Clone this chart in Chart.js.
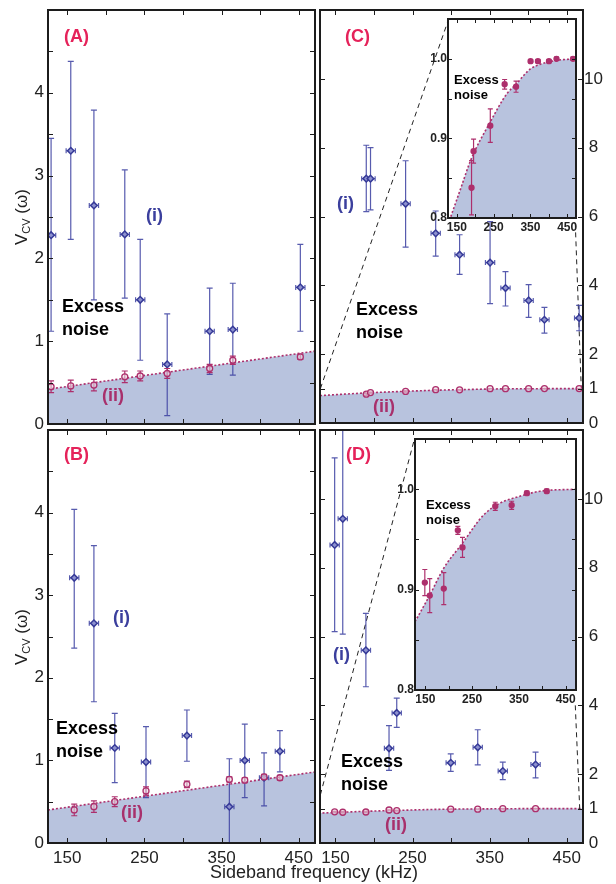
<!DOCTYPE html>
<html><head><meta charset="utf-8">
<script src="https://cdn.jsdelivr.net/npm/chart.js@4.4.1/dist/chart.umd.min.js"></script>
<style>
html,body{margin:0;padding:0;background:#fff;width:616px;height:884px;overflow:hidden;position:relative;font-family:"Liberation Sans",Arial,sans-serif;}
canvas{position:absolute;}
.t{position:absolute;white-space:nowrap;font-weight:bold;line-height:1;z-index:5;}
.lab{font-size:18px;color:#e5225a;}
.ci{font-size:18px;color:#3b3f9d;}
.cii{font-size:18px;color:#a8306c;}
.ex{font-size:18px;color:#000;line-height:22.5px;}
.exs{font-size:13px;color:#000;line-height:15px;}
.ytitle{position:absolute;white-space:nowrap;font-size:17px;color:#222;transform-origin:0 0;transform:rotate(-90deg) translate(-50%,-50%);z-index:5;line-height:1;}
.ytitle sub{font-size:11px;vertical-align:-3px;}
.xtitle{position:absolute;white-space:nowrap;font-size:18px;color:#222;z-index:5;line-height:1;}
</style></head><body>
<script>
// ---------------- data ----------------
// tick values
const freqTicks = [150, 200, 250, 300, 350, 400, 450];
const freqLabels = [150, 250, 350, 450];
const vcvLabelsAB = [0, 1, 2, 3, 4];
const vcvTicksAB = [0.5, 1, 1.5, 2, 2.5, 3, 3.5, 4, 4.5];
const vcvLabelsCD = [0, 1, 2, 4, 6, 8, 10];
const vcvTicksCD = [1, 2, 4, 6, 8, 10];
const insetLabels = [0.8, 0.9, 1.0];
const insetTicks = [0.85, 0.9, 0.95, 1.0];

// Panel A
const freqA = [129, 154.5, 184.5, 224.5, 244.5, 279.5, 334.5, 364.5, 452];
const freqErrA = [6, 6, 6, 6, 6, 6, 6, 6, 6];
const vcvA_i = [2.28, 3.30, 2.64, 2.29, 1.50, 0.72, 1.12, 1.14, 1.65];
const vcvA_iLow = [1.12, 2.23, 1.50, 1.52, 0.77, 0.10, 0.60, 0.59, 1.12];
const vcvA_iHigh = [3.45, 4.38, 3.79, 3.07, 2.23, 1.33, 1.64, 1.70, 2.17];
const vcvA_ii = [0.45, 0.46, 0.47, 0.57, 0.58, 0.61, 0.67, 0.77, 0.81];
const vcvA_iiErr = [0.07, 0.07, 0.07, 0.07, 0.06, 0.06, 0.05, 0.05, 0.03];
const boundA_f = [125, 471];
const boundA_v = [0.42, 0.88];

// Panel B
const freqB = [159, 184.5, 211.5, 252, 305, 360, 380, 405, 425.5];
const freqErrB = [6, 6, 6, 6, 6, 6, 6, 6, 6];
const vcvB_i = [3.21, 2.66, 1.15, 0.98, 1.30, 0.44, 1.00, 0.79, 1.11];
const vcvB_iLow = [2.36, 1.71, 0.73, 0.55, 0.99, -0.15, 0.55, 0.45, 0.86];
const vcvB_iHigh = [4.04, 3.60, 1.57, 1.41, 1.61, 1.02, 1.44, 1.09, 1.36];
const vcvB_ii = [0.40, 0.44, 0.50, 0.63, 0.71, 0.77, 0.76, 0.80, 0.79];
const vcvB_iiErr = [0.07, 0.07, 0.06, 0.05, 0.04, 0.03, 0.03, 0.03, 0.03];
const boundB_f = [125, 471];
const boundB_v = [0.40, 0.86];

// Panel C
const freqC = [190, 195.5, 241, 280, 311, 350.5, 370.5, 400.5, 421, 466];
const freqErrC = [6, 6, 6, 6, 6, 6, 6, 6, 6, 6];
const vcvC_i = [7.10, 7.10, 6.37, 5.51, 4.89, 4.66, 3.92, 3.56, 3.00, 3.05];
const vcvC_iLow = [6.14, 6.19, 5.11, 4.85, 4.32, 3.47, 3.40, 3.07, 2.61, 2.68];
const vcvC_iHigh = [8.07, 8.00, 7.62, 6.16, 5.47, 5.85, 4.40, 4.02, 3.36, 3.42];
const vcvC_ii = [0.838, 0.884, 0.916, 0.968, 0.965, 0.997, 0.997, 0.997, 1.0, 1.0];
const vcvC_iiErr = [0.034, 0.015, 0.021, 0.006, 0.007, 0.002, 0.002, 0.002, 0.002, 0.002];
const boundC_f = [130, 159, 189, 240, 286, 311, 349, 376, 421, 474];
const boundC_v = [0.797, 0.835, 0.874, 0.920, 0.956, 0.968, 0.987, 0.993, 0.998, 1.0];
const zoomC_left_f = [130.5, 296.4];
const zoomC_left_v = [1.0, 11.71];
const zoomC_right_f = [461, 469];
const zoomC_right_v = [5.8, 0.86];

// Panel D
const freqD = [149, 159.5, 189.5, 219.5, 229.5, 299.5, 334.5, 367, 409.5];
const freqErrD = [6, 6, 6, 6, 6, 6, 6, 6, 6];
const vcvD_i = [8.66, 9.42, 5.60, 2.75, 3.78, 2.33, 2.78, 2.09, 2.28];
const vcvD_iLow = [6.14, 6.07, 4.54, 2.11, 3.36, 2.08, 2.27, 1.84, 1.89];
const vcvD_iHigh = [11.19, 12.77, 6.67, 3.41, 4.21, 2.59, 3.29, 2.35, 2.64];
const vcvD_ii = [0.907, 0.894, 0.901, 0.959, 0.942, 0.983, 0.984, 0.996, 0.998];
const vcvD_iiErr = [0.013, 0.017, 0.016, 0.004, 0.010, 0.004, 0.004, 0.002, 0.002];
const boundD_f = [128, 159, 189, 229, 274, 309, 345, 395, 472];
const boundD_v = [0.868, 0.894, 0.921, 0.946, 0.974, 0.986, 0.992, 0.998, 1.0];
const zoomD_left_f = [130.5, 252];
const zoomD_left_v = [1.4, 11.7];
const zoomD_right_f = [461, 467];
const zoomD_right_v = [4.0, 0.87];

// ---------------- styling ----------------
const BLUE = '#363a98';
const BLUE_ERR = 'rgba(58,62,160,0.85)';
const MAG = '#ad2f6c';
const FILL = '#b8c3de';
const FRAME = '#1c1c1c';
Chart.defaults.font.family = 'Liberation Sans';

// ---------------- plugins ----------------
const frameTicks = {
  id: 'frameTicks',
  beforeDraw(chart, args, o) {
    if (!o || !o.bg) return;
    const a = chart.chartArea, ctx = chart.ctx;
    ctx.save(); ctx.fillStyle = o.bg;
    ctx.fillRect(a.left, a.top, a.right - a.left, a.bottom - a.top);
    ctx.restore();
  },
  afterDraw(chart, args, o) {
    if (!o || !o.x) return;
    const {ctx, chartArea: a, scales} = chart;
    ctx.save();
    ctx.strokeStyle = FRAME; ctx.lineWidth = 1;
    ctx.beginPath();
    o.x.forEach(v => {
      const px = Math.round(scales.x.getPixelForValue(v)) + 0.5;
      ctx.moveTo(px, a.bottom); ctx.lineTo(px, a.bottom - o.len);
      ctx.moveTo(px, a.top); ctx.lineTo(px, a.top + o.len);
    });
    o.y.forEach(v => {
      const py = Math.round(scales.y.getPixelForValue(v)) + 0.5;
      ctx.moveTo(a.left, py); ctx.lineTo(a.left + o.len, py);
      ctx.moveTo(a.right, py); ctx.lineTo(a.right - o.len, py);
    });
    ctx.stroke();
    ctx.lineWidth = o.frameW;
    ctx.strokeRect(a.left, a.top, a.right - a.left, a.bottom - a.top);
    ctx.restore();
  }
};

const errBars = {
  id: 'errBars',
  beforeDatasetDraw(chart, args) {
    const ds = chart.data.datasets[args.index];
    if (!ds.errLo) return;
    const {ctx, chartArea: a, scales: {x, y}} = chart;
    ctx.save();
    ctx.beginPath(); ctx.rect(a.left, a.top, a.right - a.left, a.bottom - a.top); ctx.clip();
    ctx.strokeStyle = ds.errColor; ctx.lineWidth = ds.errWidth || 1.2;
    ctx.beginPath();
    const c = ds.cap;
    ds.data.forEach((p, i) => {
      const px = x.getPixelForValue(p.x);
      const y1 = y.getPixelForValue(ds.errLo[i]), y2 = y.getPixelForValue(ds.errHi[i]);
      ctx.moveTo(px, y1); ctx.lineTo(px, y2);
      ctx.moveTo(px - c, y1); ctx.lineTo(px + c, y1);
      ctx.moveTo(px - c, y2); ctx.lineTo(px + c, y2);
      if (ds.xErr) {
        const xa = x.getPixelForValue(p.x - ds.xErr[i]), xb = x.getPixelForValue(p.x + ds.xErr[i]);
        const py = y.getPixelForValue(p.y);
        ctx.moveTo(xa, py); ctx.lineTo(xb, py);
        ctx.moveTo(xa, py - 2.5); ctx.lineTo(xa, py + 2.5);
        ctx.moveTo(xb, py - 2.5); ctx.lineTo(xb, py + 2.5);
      }
    });
    ctx.stroke();
    ctx.restore();
  }
};
Chart.register(frameTicks, errBars);

// ---------------- helpers ----------------
const pts = (xs, ys) => xs.map((x, i) => ({x, y: ys[i]}));
function blueSet(xs, v, lo, hi, xe) {
  return {data: pts(xs, v), showLine: false, pointStyle: 'rectRot', pointRadius: 3.3, pointBorderWidth: 1.5,
    pointBorderColor: BLUE, pointBackgroundColor: '#8d91cf', errLo: lo, errHi: hi, xErr: xe,
    errColor: BLUE_ERR, cap: 3};
}
function magSet(xs, v, err, filled, r) {
  return {data: pts(xs, v), showLine: false, pointRadius: r, pointBorderWidth: 1.3,
    pointBorderColor: MAG, pointBackgroundColor: filled ? MAG : 'rgba(235,215,225,0.6)',
    errLo: v.map((y, i) => y - err[i]), errHi: v.map((y, i) => y + err[i]),
    errColor: MAG, cap: filled ? 2.5 : 3};
}
function curveSet(xs, v) {
  return {data: pts(xs, v), fill: 'start', backgroundColor: FILL, borderColor: MAG,
    borderWidth: 1.6, borderDash: [2, 2], pointRadius: 0, cubicInterpolationMode: 'monotone'};
}
function dashSet(xs, v) {
  return {data: pts(xs, v), fill: false, borderColor: '#222', borderWidth: 1,
    borderDash: [5, 4], pointRadius: 0};
}

const P = 30;
function makeChart(o) {
  const axL = o.axL || 0, axR = o.axR || 0, axB = o.axB || 0;
  const f = o.frame;
  const c = document.createElement('canvas');
  const w = (f[2] - f[0]) + 2 * P + axL + axR, h = (f[3] - f[1]) + 2 * P + axB;
  c.width = w; c.height = h;
  c.style.left = (f[0] - P - axL) + 'px'; c.style.top = (f[1] - P) + 'px';
  c.style.width = w + 'px'; c.style.height = h + 'px'; c.style.zIndex = o.z;
  document.body.appendChild(c);
  const yPos = axR ? 'right' : 'left';
  const yShown = !!(axL || axR);
  new Chart(c, {
    type: 'line',
    data: {datasets: o.datasets},
    options: {
      responsive: false, animation: false, devicePixelRatio: 1, events: [],
      layout: {padding: P},
      plugins: {legend: {display: false}, tooltip: {enabled: false},
        frameTicks: {x: o.xTicks, y: o.yTicks, len: o.tickLen, frameW: 2, bg: o.bg}},
      scales: {
        x: {type: 'linear', min: o.xr[0], max: o.xr[1], position: 'bottom', display: !!axB,
          grid: {display: false, drawTicks: false}, border: {display: false},
          ticks: {autoSkip: false, maxRotation: 0, font: o.font, color: '#222', padding: o.xPad},
          afterBuildTicks: s => { s.ticks = freqLabels.map(v => ({value: v})); },
          afterFit: s => { s.height = axB; }},
        y: {type: 'linear', min: o.yr[0], max: o.yr[1], position: yPos, display: yShown,
          grid: {display: false, drawTicks: false}, border: {display: false},
          ticks: {autoSkip: false, font: o.font, color: '#222', padding: o.yPad,
            crossAlign: axR ? 'center' : 'near', callback: o.fmt},
          afterBuildTicks: s => { s.ticks = o.yLabels.map(v => ({value: v})); },
          afterFit: s => { s.width = axL || axR; }}
      }
    }
  });
}

const mainFont = {family: 'Liberation Sans', size: 17};
const insetFont = {family: 'Liberation Sans', size: 12, weight: 'bold'};
const fmtInt = v => String(v);
const fmtDec = v => v.toFixed(1);

// Panel A
makeChart({frame: [48, 10, 315, 424], axL: 48, z: 1, xr: [125, 471], yr: [0, 5],
  yLabels: vcvLabelsAB, xTicks: freqTicks, yTicks: vcvTicksAB, tickLen: 5,
  font: mainFont, yPad: 4, xPad: 5, fmt: fmtInt,
  datasets: [magSet(freqA, vcvA_ii, vcvA_iiErr, false, 3),
    blueSet(freqA, vcvA_i, vcvA_iLow, vcvA_iHigh, freqErrA),
    curveSet(boundA_f, boundA_v)]});
// Panel B
makeChart({frame: [48, 430, 315, 843], axL: 48, axB: 26, z: 1, xr: [125, 471], yr: [0, 5],
  yLabels: vcvLabelsAB, xTicks: freqTicks, yTicks: vcvTicksAB, tickLen: 5,
  font: mainFont, yPad: 4, xPad: 5, fmt: fmtInt,
  datasets: [magSet(freqB, vcvB_ii, vcvB_iiErr, false, 3),
    blueSet(freqB, vcvB_i, vcvB_iLow, vcvB_iHigh, freqErrB),
    curveSet(boundB_f, boundB_v)]});
// Panel C
makeChart({frame: [320, 10, 583, 423], axR: 30, z: 1, xr: [130, 471], yr: [0, 12],
  yLabels: vcvLabelsCD, xTicks: freqTicks, yTicks: vcvTicksCD, tickLen: 5,
  font: mainFont, yPad: 1, xPad: 5, fmt: fmtInt,
  datasets: [magSet(freqC, vcvC_ii, vcvC_iiErr, false, 3),
    blueSet(freqC, vcvC_i, vcvC_iLow, vcvC_iHigh, freqErrC),
    dashSet(zoomC_left_f, zoomC_left_v), dashSet(zoomC_right_f, zoomC_right_v),
    curveSet(boundC_f, boundC_v)]});
// Panel D
makeChart({frame: [320, 430, 583, 843], axR: 30, axB: 26, z: 1, xr: [130, 471], yr: [0, 12],
  yLabels: vcvLabelsCD, xTicks: freqTicks, yTicks: vcvTicksCD, tickLen: 5,
  font: mainFont, yPad: 1, xPad: 5, fmt: fmtInt,
  datasets: [magSet(freqD, vcvD_ii, vcvD_iiErr, false, 3),
    blueSet(freqD, vcvD_i, vcvD_iLow, vcvD_iHigh, freqErrD),
    dashSet(zoomD_left_f, zoomD_left_v), dashSet(zoomD_right_f, zoomD_right_v),
    curveSet(boundD_f, boundD_v)]});
// Inset C
makeChart({frame: [448, 19, 576, 218], axL: 24, axB: 16, z: 2, xr: [126, 474], yr: [0.8, 1.05],
  yLabels: insetLabels, xTicks: freqTicks, yTicks: insetTicks, tickLen: 4, bg: '#ffffff',
  font: insetFont, yPad: 1, xPad: 2, fmt: fmtDec,
  datasets: [magSet(freqC, vcvC_ii, vcvC_iiErr, true, 2.5), curveSet(boundC_f, boundC_v)]});
// Inset D
makeChart({frame: [415, 439, 576, 690], axL: 24, axB: 16, z: 2, xr: [128, 472], yr: [0.8, 1.05],
  yLabels: insetLabels, xTicks: freqTicks, yTicks: insetTicks, tickLen: 4, bg: '#ffffff',
  font: insetFont, yPad: 1, xPad: 2, fmt: fmtDec,
  datasets: [magSet(freqD, vcvD_ii, vcvD_iiErr, true, 2.5), curveSet(boundD_f, boundD_v)]});
</script>

<div class="t lab" style="left:64px;top:27px">(A)</div>
<div class="t lab" style="left:64px;top:445px">(B)</div>
<div class="t lab" style="left:345px;top:27px">(C)</div>
<div class="t lab" style="left:346px;top:445px">(D)</div>

<div class="t ci" style="left:146px;top:206px">(i)</div>
<div class="t cii" style="left:102px;top:386px">(ii)</div>
<div class="t ci" style="left:113px;top:608px">(i)</div>
<div class="t cii" style="left:121px;top:803px">(ii)</div>
<div class="t ci" style="left:337px;top:194px">(i)</div>
<div class="t cii" style="left:373px;top:397px">(ii)</div>
<div class="t ci" style="left:333px;top:645px">(i)</div>
<div class="t cii" style="left:385px;top:815px">(ii)</div>

<div class="t ex" style="left:62px;top:295px">Excess<br>noise</div>
<div class="t ex" style="left:56px;top:717px">Excess<br>noise</div>
<div class="t ex" style="left:356px;top:298px">Excess<br>noise</div>
<div class="t ex" style="left:341px;top:750px">Excess<br>noise</div>
<div class="t exs" style="left:454px;top:72px">Excess<br>noise</div>
<div class="t exs" style="left:426px;top:497px">Excess<br>noise</div>

<div class="ytitle" style="left:22px;top:217px">V<sub>CV</sub> (ω)</div>
<div class="ytitle" style="left:22px;top:637px">V<sub>CV</sub> (ω)</div>
<div class="xtitle" style="left:210px;top:863px">Sideband frequency (kHz)</div>
</body></html>
